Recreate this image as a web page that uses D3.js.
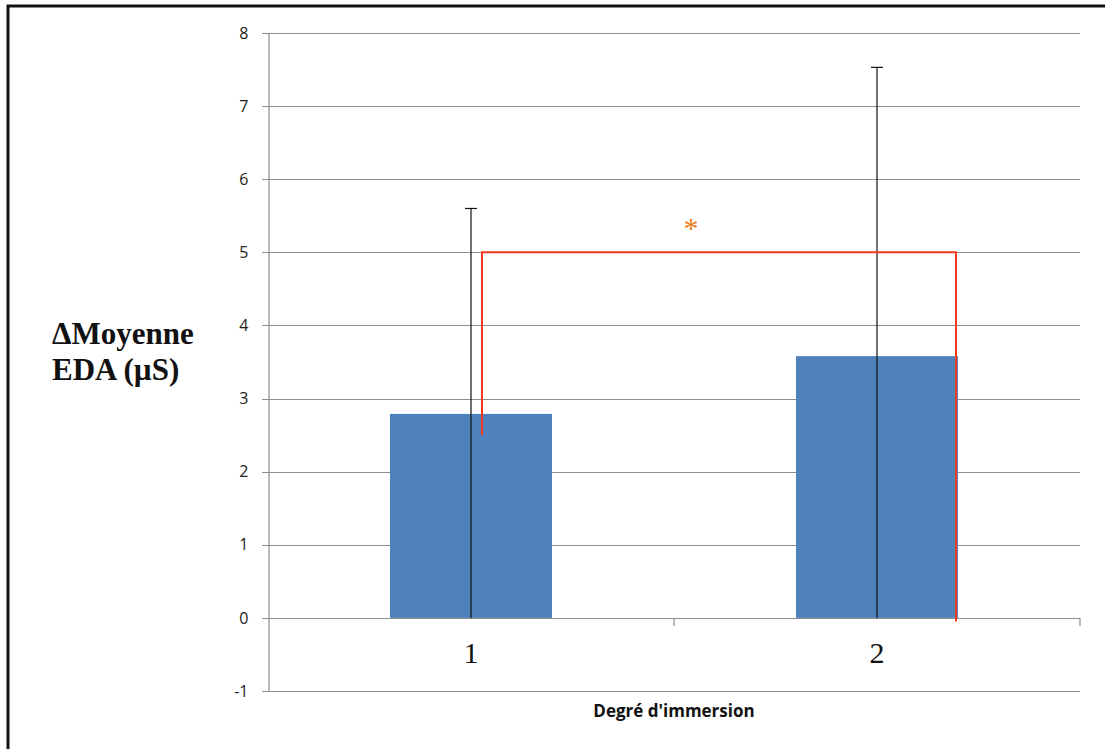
<!DOCTYPE html>
<meta charset="utf-8">
<style>
body { margin: 0; background: #fff; }
.tick text { font: 16px "Open Sans", sans-serif; fill: #222; }
</style>
<svg width="1105" height="749"></svg>
<script src="https://d3js.org/d3.v7.min.js"></script>
<script>

var categories = ["1", "2"];
var means = [2.79, 3.58];
var errTops = [5.6, 7.53];        // mean + error
var yTicks = [-1, 0, 1, 2, 3, 4, 5, 6, 7, 8];
// significance bracket: left foot, level, right foot
var bracket = {left: 2.5, level: 5.0, right: -0.05};

var svg = d3.select("svg"),
    width = +svg.attr("width"),
    height = +svg.attr("height");

// frame (top and left only, the rest is cut off)
svg.append("path")
    .attr("d", "M8,749 V6 H1105")
    .attr("fill", "none")
    .attr("stroke", "#111")
    .attr("stroke-width", 3);

var plotL = 268, plotR = 1080, plotT = 33, plotB = 691;

var x = d3.scaleBand().domain(categories).range([plotL, plotR]).paddingInner(0).paddingOuter(0);
var y = d3.scaleLinear().domain([-1, 8]).range([plotB, plotT]);

var g = svg.append("g");

// gridlines
g.selectAll(".grid")
  .data(yTicks)
  .enter().append("line")
    .attr("x1", plotL - 6).attr("x2", plotR)
    .attr("y1", function(d) { return Math.round(y(d)) + 0.5; })
    .attr("y2", function(d) { return Math.round(y(d)) + 0.5; })
    .attr("stroke", "#8e8e8e")
    .attr("stroke-width", 1.2);

// y axis
var yAxis = g.append("g")
    .attr("transform", "translate(" + (plotL + 0.5) + ",0)")
    .call(d3.axisLeft(y).tickValues(yTicks).tickSize(0).tickPadding(20)
      .tickFormat(function(d) { return String(d); }));
yAxis.select(".domain").attr("stroke", "#8e8e8e").attr("stroke-width", 1.2);

// category dividers on the zero line
g.selectAll(".xt")
  .data(categories.slice(1).concat([null]))
  .enter().append("line")
    .attr("x1", function(d) { return d ? x(d) : plotR; })
    .attr("x2", function(d) { return d ? x(d) : plotR; })
    .attr("y1", y(0)).attr("y2", y(0) + 8)
    .attr("stroke", "#8e8e8e")
    .attr("stroke-width", 1.2);

// bars
var bw = 162;
g.selectAll(".bar")
  .data(means)
  .enter().append("rect")
    .attr("x", function(d, i) { return x(categories[i]) + x.bandwidth() / 2 - bw / 2; })
    .attr("y", function(d) { return y(d); })
    .attr("width", bw)
    .attr("height", function(d) { return y(0) - y(d); })
    .attr("fill", "#4f81bd");

// error bars
var eb = g.selectAll(".err")
  .data(errTops)
  .enter().append("g");
eb.append("line")
    .attr("x1", function(d, i) { return x(categories[i]) + x.bandwidth() / 2; })
    .attr("x2", function(d, i) { return x(categories[i]) + x.bandwidth() / 2; })
    .attr("y1", y(0)).attr("y2", function(d) { return y(d); })
    .attr("stroke", "#111").attr("stroke-width", 1.2);
eb.append("line")
    .attr("x1", function(d, i) { return x(categories[i]) + x.bandwidth() / 2 - 6; })
    .attr("x2", function(d, i) { return x(categories[i]) + x.bandwidth() / 2 + 6; })
    .attr("y1", function(d) { return y(d); }).attr("y2", function(d) { return y(d); })
    .attr("stroke", "#111").attr("stroke-width", 1.2);

// significance bracket
var bx1 = x(categories[0]) + x.bandwidth() / 2 + 11,
    bx2 = x(categories[1]) + x.bandwidth() / 2 + 79;
g.append("path")
    .attr("d", "M" + bx1 + "," + y(bracket.left) + " V" + y(bracket.level) +
               " H" + bx2 + " V" + y(bracket.right))
    .attr("fill", "none")
    .attr("stroke", "#f03c1e")
    .attr("stroke-width", 2);
g.append("text")
    .attr("x", (bx1 + bx2) / 2 - 28)
    .attr("y", y(bracket.level) - 14)
    .attr("text-anchor", "middle")
    .attr("font-family", "Liberation Serif, serif")
    .attr("font-size", 30)
    .attr("fill", "#f07a20")
    .text("*");

// category labels
g.selectAll(".cat")
  .data(categories)
  .enter().append("text")
    .attr("x", function(d) { return x(d) + x.bandwidth() / 2; })
    .attr("y", 663)
    .attr("text-anchor", "middle")
    .attr("font-family", "Liberation Serif, serif")
    .attr("font-size", 30)
    .attr("fill", "#111")
    .text(function(d) { return d; });

// axis titles
svg.append("text")
    .attr("x", (plotL + plotR) / 2)
    .attr("y", 717)
    .attr("text-anchor", "middle")
    .attr("font-family", "Open Sans, sans-serif")
    .attr("font-weight", "bold")
    .attr("font-size", 17)
    .attr("fill", "#111")
    .text("Degré d'immersion");

var yt = svg.append("text")
    .attr("font-family", "Liberation Serif, serif")
    .attr("font-weight", "bold")
    .attr("font-size", 31)
    .attr("fill", "#111");
yt.append("tspan").attr("x", 52).attr("y", 344).text("ΔMoyenne");
yt.append("tspan").attr("x", 52).attr("y", 380).text("EDA (µS)");

</script>
